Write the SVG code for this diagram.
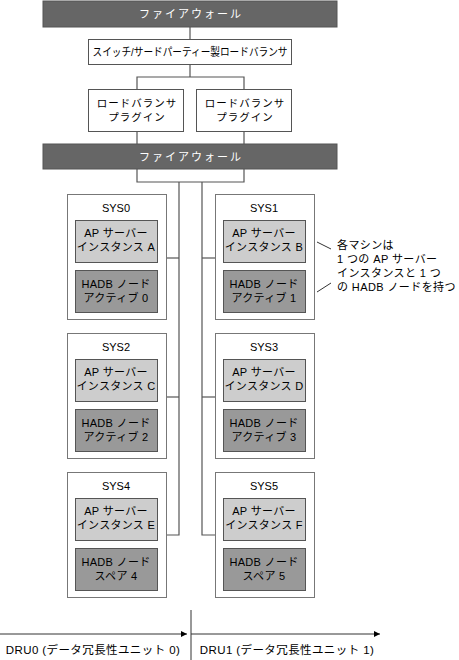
<svg xmlns="http://www.w3.org/2000/svg" width="459" height="660" viewBox="0 0 459 660">
<defs>
<style>
text{font-family:"Liberation Sans","Noto Sans CJK JP",sans-serif;font-size:11px;fill:#000;text-anchor:middle}
.fw{fill:#666;stroke:#555;stroke-width:1}
.fwt{fill:#fff;letter-spacing:2px}
.wb{fill:#fff;stroke:#555;stroke-width:1}
.sys{fill:#fff;stroke:#777;stroke-width:1}
.ap{fill:#cdcdcd;stroke:#555;stroke-width:1}
.hadb{fill:#999;stroke:#555;stroke-width:1}
.ln{fill:none;stroke:#555;stroke-width:1.2}
.bt{font-size:11px;letter-spacing:0.3px}
.pl{font-size:10.5px;letter-spacing:1px}
.ann{text-anchor:start;letter-spacing:0.4px}
.dru{font-size:11.5px;letter-spacing:0.4px}
</style>
<marker id="ah" viewBox="0 0 10 10" refX="10" refY="5" markerWidth="6" markerHeight="7" orient="auto" markerUnits="userSpaceOnUse">
<path d="M0,0 L10,5 L0,10 Z" fill="#000"/>
</marker>
</defs>
<rect width="459" height="660" fill="#fff"/>

<g id="connectors">
<line class="ln" x1="190" y1="27" x2="190" y2="39"/>
<polyline class="ln" points="190,64 190,77"/>
<polyline class="ln" points="137,89 137,77 244,77 244,89"/>
<line class="ln" x1="137" y1="131" x2="137" y2="144"/>
<line class="ln" x1="244" y1="131" x2="244" y2="144"/>
<polyline class="ln" points="137,169 137,182 244,182 244,169"/>
<polyline class="ln" points="179,182 179,535 166,535"/>
<polyline class="ln" points="202,182 202,535 215,535"/>
<line class="ln" x1="166" y1="258" x2="179" y2="258"/>
<line class="ln" x1="215" y1="258" x2="202" y2="258"/>
<line class="ln" x1="166" y1="397" x2="179" y2="397"/>
<line class="ln" x1="215" y1="397" x2="202" y2="397"/>
<line x1="317" y1="242" x2="331" y2="249" stroke="#333" stroke-width="1"/>
<line x1="317" y1="292" x2="331" y2="283" stroke="#333" stroke-width="1"/>
<line x1="0" y1="634" x2="187" y2="634" stroke="#333" stroke-width="1" marker-end="url(#ah)"/>
<line x1="191" y1="634" x2="380" y2="634" stroke="#333" stroke-width="1" marker-end="url(#ah)"/>
<line x1="191" y1="610" x2="191" y2="660" stroke="#333" stroke-width="1"/>
</g>

<g id="firewall1">
<rect class="fw" x="43" y="1" width="294" height="26"/>
<text class="fwt" x="191" y="18">ファイアウォール</text>
</g>
<g id="switch">
<rect class="wb" x="88.5" y="39.5" width="203" height="25"/>
<text x="190" y="56" font-size="10.5" textLength="195" lengthAdjust="spacingAndGlyphs">スイッチ/サードパーティー製ロードバランサ</text>
</g>
<g id="plugin1">
<rect class="wb" x="88.5" y="89.5" width="95" height="42"/>
<text class="pl" x="137" y="107">ロードバランサ</text>
<text class="pl" x="137" y="121">プラグイン</text>
</g>
<g id="plugin2">
<rect class="wb" x="196.5" y="89.5" width="95" height="42"/>
<text class="pl" x="245" y="107">ロードバランサ</text>
<text class="pl" x="245" y="121">プラグイン</text>
</g>
<g id="firewall2">
<rect class="fw" x="43" y="144" width="294" height="25"/>
<text class="fwt" x="191" y="161">ファイアウォール</text>
</g>

<g id="sys0">
<rect class="sys" x="67.5" y="194.5" width="99" height="125"/>
<text x="116" y="212">SYS0</text>
<rect class="ap" x="75.5" y="220.5" width="82" height="42"/>
<text class="bt" x="116" y="237">AP サーバー</text>
<text class="bt" x="116" y="251">インスタンス A</text>
<rect class="hadb" x="75.5" y="270.5" width="82" height="42"/>
<text class="bt" x="116" y="288">HADB ノード</text>
<text class="bt" x="116" y="302">アクティブ 0</text>
</g>
<g id="sys1">
<rect class="sys" x="215.5" y="194.5" width="99" height="125"/>
<text x="264" y="212">SYS1</text>
<rect class="ap" x="223.5" y="220.5" width="82" height="42"/>
<text class="bt" x="264" y="237">AP サーバー</text>
<text class="bt" x="264" y="251">インスタンス B</text>
<rect class="hadb" x="223.5" y="270.5" width="82" height="42"/>
<text class="bt" x="264" y="288">HADB ノード</text>
<text class="bt" x="264" y="302">アクティブ 1</text>
</g>
<g id="sys2">
<rect class="sys" x="67.5" y="333.5" width="99" height="125"/>
<text x="116" y="351">SYS2</text>
<rect class="ap" x="75.5" y="359.5" width="82" height="42"/>
<text class="bt" x="116" y="376">AP サーバー</text>
<text class="bt" x="116" y="390">インスタンス C</text>
<rect class="hadb" x="75.5" y="409.5" width="82" height="42"/>
<text class="bt" x="116" y="427">HADB ノード</text>
<text class="bt" x="116" y="441">アクティブ 2</text>
</g>
<g id="sys3">
<rect class="sys" x="215.5" y="333.5" width="99" height="125"/>
<text x="264" y="351">SYS3</text>
<rect class="ap" x="223.5" y="359.5" width="82" height="42"/>
<text class="bt" x="264" y="376">AP サーバー</text>
<text class="bt" x="264" y="390">インスタンス D</text>
<rect class="hadb" x="223.5" y="409.5" width="82" height="42"/>
<text class="bt" x="264" y="427">HADB ノード</text>
<text class="bt" x="264" y="441">アクティブ 3</text>
</g>
<g id="sys4">
<rect class="sys" x="67.5" y="472.5" width="99" height="125"/>
<text x="116" y="490">SYS4</text>
<rect class="ap" x="75.5" y="498.5" width="82" height="42"/>
<text class="bt" x="116" y="515">AP サーバー</text>
<text class="bt" x="116" y="529">インスタンス E</text>
<rect class="hadb" x="75.5" y="548.5" width="82" height="42"/>
<text class="bt" x="116" y="566">HADB ノード</text>
<text class="bt" x="116" y="580">スペア 4</text>
</g>
<g id="sys5">
<rect class="sys" x="215.5" y="472.5" width="99" height="125"/>
<text x="264" y="490">SYS5</text>
<rect class="ap" x="223.5" y="498.5" width="82" height="42"/>
<text class="bt" x="264" y="515">AP サーバー</text>
<text class="bt" x="264" y="529">インスタンス F</text>
<rect class="hadb" x="223.5" y="548.5" width="82" height="42"/>
<text class="bt" x="264" y="566">HADB ノード</text>
<text class="bt" x="264" y="580">スペア 5</text>
</g>

<g id="annotation">
<text class="ann" x="337" y="249">各マシンは</text>
<text class="ann" x="337" y="263">1 つの AP サーバー</text>
<text class="ann" x="337" y="277">インスタンスと 1 つ</text>
<text class="ann" x="337" y="291">の HADB ノードを持つ</text>
</g>

<g id="dru0">
<text class="dru" x="93" y="654">DRU0 (データ冗長性ユニット 0)</text>
</g>
<g id="dru1">
<text class="dru" x="287" y="654">DRU1 (データ冗長性ユニット 1)</text>
</g>
</svg>
